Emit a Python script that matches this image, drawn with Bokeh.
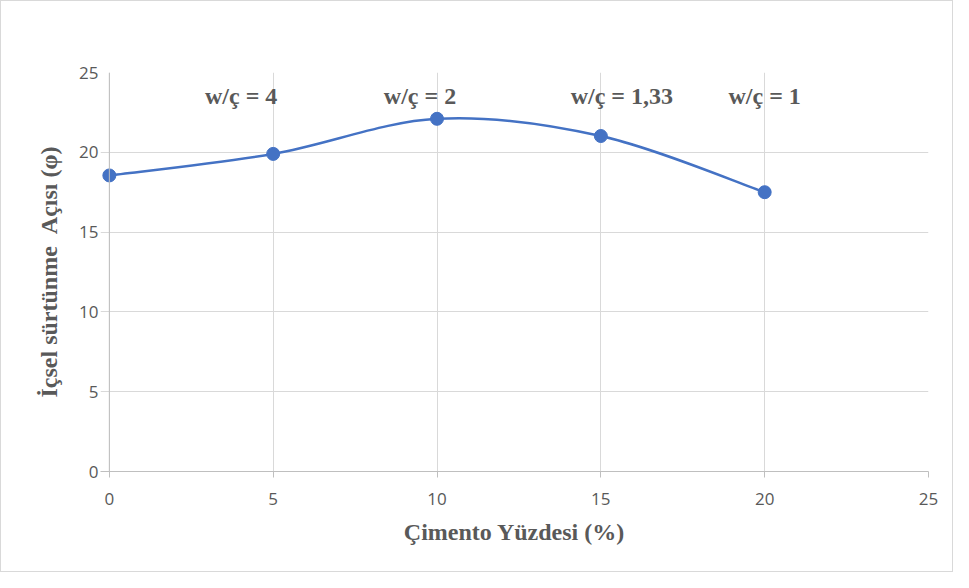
import numpy as np
from bokeh.plotting import figure
from bokeh.models import Range1d, FixedTicker, ColumnDataSource, Span
from bokeh.core.properties import value
from bokeh.embed import file_html
from bokeh.resources import INLINE

# ---- data ----
cement_pct = [0, 5, 10, 15, 20]
friction_angle = [18.55, 19.9, 22.1, 21.02, 17.5]
wc_labels = ["w/ç = 4", "w/ç = 2", "w/ç = 1,33", "w/ç = 1"]
wc_label_x = [5, 10, 15, 20]
wc_label_y = [23.5, 23.5, 23.5, 23.5]
ticks = [0, 5, 10, 15, 20, 25]

BLUE = "#4472C4"
GRAY_TXT = "#595959"
GRID = "#d9d9d9"
AXIS = "#bfbfbf"

# small left padding of the x range so the marker at x=0 is not clipped;
# the grid lines reaching into it stand in for the y-axis tick marks
p = figure(width=953, height=572, output_backend="svg", toolbar_location=None,
           x_range=Range1d(-0.27, 25), y_range=Range1d(0, 25),
           min_border_left=99, min_border_right=26, min_border_top=71, min_border_bottom=102,
           styles={"border": "1px solid #d9d9d9"})
p.outline_line_color = None
p.background_fill_color = "white"
p.border_fill_color = "white"

for ax in (p.xaxis[0], p.yaxis[0]):
    ax.ticker = FixedTicker(ticks=ticks)
    ax.axis_line_color = AXIS
    ax.axis_line_width = 1
    ax.major_tick_line_color = AXIS
    ax.major_tick_out = 6
    ax.major_tick_in = 0
    ax.minor_tick_line_color = None
    ax.major_label_text_font = "Open Sans"
    ax.major_label_text_font_size = "17px"
    ax.major_label_text_color = GRAY_TXT
    ax.axis_label_text_font = "Liberation Serif"
    ax.axis_label_text_font_style = "bold"
    ax.axis_label_text_font_size = "24px"
    ax.axis_label_text_color = GRAY_TXT

p.yaxis.axis_line_color = None
p.yaxis.major_tick_line_color = None
p.yaxis.major_tick_out = 0
p.xaxis.axis_label = "Çimento Yüzdesi (%)"
p.yaxis.axis_label = "İçsel sürtünme \u00a0Açısı (φ)"
p.xaxis.major_label_standoff = 15
p.yaxis.major_label_standoff = 2
p.xaxis.axis_label_standoff = 11
p.yaxis.axis_label_standoff = 14

for g in (p.xgrid[0], p.ygrid[0]):
    g.ticker = FixedTicker(ticks=ticks)
    g.grid_line_color = GRID
    g.grid_line_width = 1

# value axis line at x = 0
p.add_layout(Span(location=0, dimension="height", line_color=AXIS, line_width=1))

# smooth (Excel-like Catmull-Rom) curve through the points
x = np.array(cement_pct, dtype=float)
y = np.array(friction_angle, dtype=float)
n = len(x)
xp = np.concatenate([[x[0]], x, [x[-1]]])
yp = np.concatenate([[y[0]], y, [y[-1]]])
t = 1.0 / 6.0
x0, y0, x1, y1, cx0, cy0, cx1, cy1 = ([] for _ in range(8))
for i in range(n - 1):
    a, b, c, d = i, i + 1, i + 2, i + 3
    x0.append(xp[b]); y0.append(yp[b]); x1.append(xp[c]); y1.append(yp[c])
    cx0.append(xp[b] + (xp[c] - xp[a]) * t); cy0.append(yp[b] + (yp[c] - yp[a]) * t)
    cx1.append(xp[c] - (xp[d] - xp[b]) * t); cy1.append(yp[c] - (yp[d] - yp[b]) * t)
p.bezier(x0=x0, y0=y0, x1=x1, y1=y1, cx0=cx0, cy0=cy0, cx1=cx1, cy1=cy1,
         line_color=BLUE, line_width=2.5)

p.scatter(cement_pct, friction_angle, size=13, marker="circle",
          fill_color=BLUE, line_color=BLUE)

src = ColumnDataSource(dict(x=wc_label_x, y=wc_label_y, t=wc_labels,
                            xo=[-32, -17, 21, 0]))
p.text(x="x", y="y", text="t", x_offset="xo", source=src,
       text_font=value("Liberation Serif"), text_font_style="bold",
       text_font_size="24px", text_color=GRAY_TXT,
       text_align="center", text_baseline="middle")

open("out.html", "w").write(file_html(p, INLINE))
